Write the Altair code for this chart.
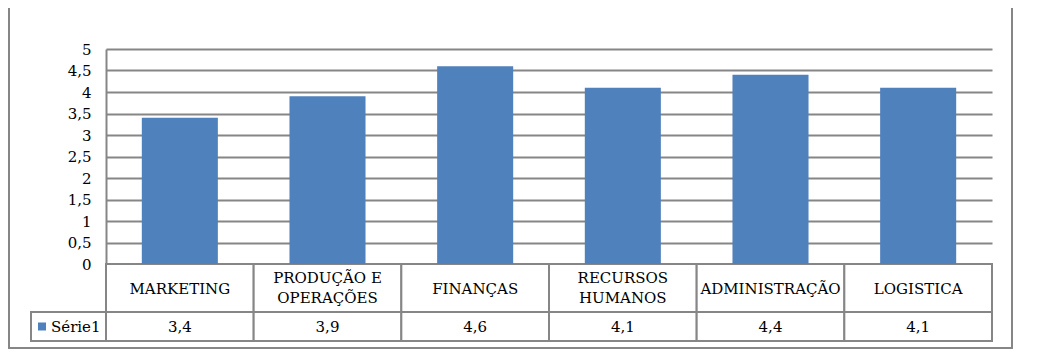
import altair as alt
import pandas as pd

categories = ["MARKETING", "PRODUÇÃO E OPERAÇÕES", "FINANÇAS", "RECURSOS HUMANOS", "ADMINISTRAÇÃO", "LOGISTICA"]
cat_labels = ["MARKETING", "PRODUÇÃO E\nOPERAÇÕES", "FINANÇAS", "RECURSOS\nHUMANOS", "ADMINISTRAÇÃO", "LOGISTICA"]
values = [3.4, 3.9, 4.6, 4.1, 4.4, 4.1]
series_name = "Série1"
y_ticks = [0, 0.5, 1, 1.5, 2, 2.5, 3, 3.5, 4, 4.5, 5]

BLUE = "#4F81BD"
GRAY = "#868686"
FONT = "DejaVu Serif"

df = pd.DataFrame({
    "cat": categories,
    "label": cat_labels,
    "value": values,
    "vlabel": [str(v).replace(".", ",") for v in values],
    "lines": [lbl.count("\n") + 1 for lbl in cat_labels],
})
one = pd.DataFrame({"name": [series_name]})

xenc = alt.X("cat:N", sort=categories, axis=None,
             scale=alt.Scale(paddingInner=0, paddingOuter=0))

base = alt.Chart(df)

bars = base.mark_bar(color=BLUE, width={"band": 0.515}).encode(
    x=xenc,
    y=alt.Y("value:Q",
            scale=alt.Scale(domain=[0, 5], range=[215, 0], nice=False),
            axis=alt.Axis(values=y_ticks, title=None, grid=True, gridColor=GRAY,
                          gridWidth=2, domain=True, domainColor=GRAY, domainWidth=2,
                          ticks=False, labelPadding=15, labelFont=FONT, labelFontSize=15,
                          labelColor="#000000",
                          labelExpr="replace(format(datum.value, '~g'), '.', ',')")),
)

cat_cells = base.mark_rect(fill="white", stroke=GRAY, strokeWidth=2).encode(
    x=xenc, y=alt.value(215), y2=alt.value(263))
val_cells = base.mark_rect(fill="white", stroke=GRAY, strokeWidth=2).encode(
    x=xenc, y=alt.value(263), y2=alt.value(292))

text_style = dict(font=FONT, fontSize=15, color="#000000", baseline="middle")
cat_text1 = base.transform_filter("datum.lines == 1").mark_text(**text_style).encode(
    x=xenc, y=alt.value(239.5), text="label:N")
cat_text2 = base.transform_filter("datum.lines == 2").mark_text(
    lineBreak="\n", lineHeight=20, **text_style).encode(
    x=xenc, y=alt.value(229), text="label:N")
val_text = base.mark_text(**text_style).encode(
    x=xenc, y=alt.value(278), text="vlabel:N")

d1 = alt.Chart(one)
leg_cell = d1.mark_rect(fill="white", stroke=GRAY, strokeWidth=2).encode(
    x=alt.value(-75), x2=alt.value(0), y=alt.value(263), y2=alt.value(292))
leg_sq = d1.mark_square(color=BLUE, size=64, opacity=1).encode(
    x=alt.value(-64), y=alt.value(277.5))
leg_txt = d1.mark_text(font=FONT, fontSize=15, color="#000000", align="left",
                       baseline="middle").encode(
    x=alt.value(-55), y=alt.value(278), text="name:N")
outer = d1.mark_rect(fillOpacity=0, stroke=GRAY, strokeWidth=2).encode(
    x=alt.value(-97), x2=alt.value(906), y=alt.value(-42), y2=alt.value(299))

chart = alt.layer(outer, cat_cells, val_cells, bars, cat_text1, cat_text2, val_text,
                  leg_cell, leg_sq, leg_txt).properties(
    width=886, height=292,
    autosize="none",
    padding={"left": 98, "top": 41, "right": 25, "bottom": 15},
).configure_view(strokeWidth=0)

chart.save("out.html", embed_options={"renderer": "svg", "actions": False})
